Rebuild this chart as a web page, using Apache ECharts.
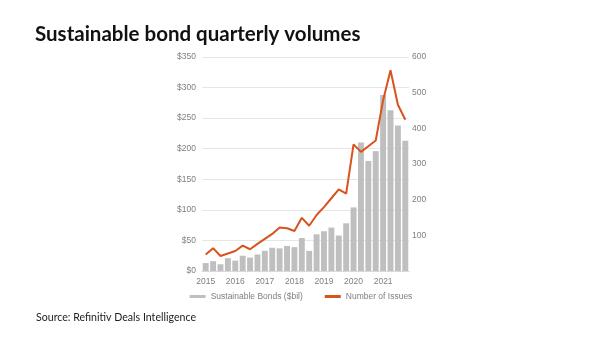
<!DOCTYPE html>
<html><head><meta charset="utf-8">
<script src="https://cdn.jsdelivr.net/npm/echarts@6/dist/echarts.min.js"></script>
<style>html,body{margin:0;padding:0;background:#fff}#c{width:602px;height:338px}</style>
</head><body><div id="c"></div>
<script>
var quarters = [];
var years = ['2015','2016','2017','2018','2019','2020','2021'];
years.forEach(function(y){ ['Q1','Q2','Q3','Q4'].forEach(function(q){ quarters.push(y + ' ' + q); }); });
var bondVolumes = [13,16,11,21,17,25,22,27,33,38,37,41,39,54,33,60,65,71,58,78,104,210,180,196,288,263,238,213];
var issueCounts = [46,64,42,49,56,71,61,76,90,104,122,120,112,149,127,157,179,204,229,217,355,334,350,366,479,563,466,424];
var leftTicks = {min:0, max:350, interval:50};
var rightTicks = {min:0, max:600, interval:100};

var chart = echarts.init(document.getElementById('c'));
var axisFont = {color:'#7f7f7f', fontSize:8.5, fontFamily:'Arial, Liberation Sans'};
chart.setOption({
  animation:false,
  title:[
    {text:'Sustainable bond quarterly volumes', left:30, top:19, textStyle:{fontFamily:'Lato', fontWeight:'bold', fontSize:20.5, color:'#111'}},
    {text:'Source: Refinitiv Deals Intelligence', left:31, top:307, textStyle:{fontFamily:'Lato', fontWeight:'normal', fontSize:10.6, color:'#222'}}
  ],
  grid:{left:202, right:193, top:57, bottom:67},
  legend:{bottom:32, left:'center', itemGap:22, itemWidth:16, itemHeight:3,
    textStyle:{color:'#7f7f7f', fontSize:8.5, fontFamily:'Arial, Liberation Sans'},
    data:[{name:'Sustainable Bonds ($bil)', icon:'rect'},{name:'Number of Issues', icon:'rect'}]},
  xAxis:{type:'category', data:quarters,
    axisLine:{lineStyle:{color:'#d9d9d9'}}, axisTick:{show:false},
    axisLabel:Object.assign({interval:3, margin:6, formatter:function(v){return v.split(' ')[0];}}, axisFont)},
  yAxis:[
    {type:'value', min:leftTicks.min, max:leftTicks.max, interval:leftTicks.interval,
      axisLabel:Object.assign({formatter:'${value}', margin:6}, axisFont),
      splitLine:{lineStyle:{color:'#e6e6e6'}}, axisLine:{show:false}, axisTick:{show:false}},
    {type:'value', min:rightTicks.min, max:rightTicks.max, interval:rightTicks.interval,
      axisLabel:Object.assign({formatter:function(v){return v===0?'':v;}, margin:3}, axisFont),
      splitLine:{show:false}, axisLine:{show:false}, axisTick:{show:false}}
  ],
  series:[
    {name:'Sustainable Bonds ($bil)', type:'bar', data:bondVolumes, yAxisIndex:0, barCategoryGap:'20%',
      itemStyle:{color:'#bfbfbf'}},
    {name:'Number of Issues', type:'line', data:issueCounts, yAxisIndex:1, symbol:'none',
      lineStyle:{color:'#d9531e', width:2}, itemStyle:{color:'#d9531e'}}
  ]
});
</script></body></html>
